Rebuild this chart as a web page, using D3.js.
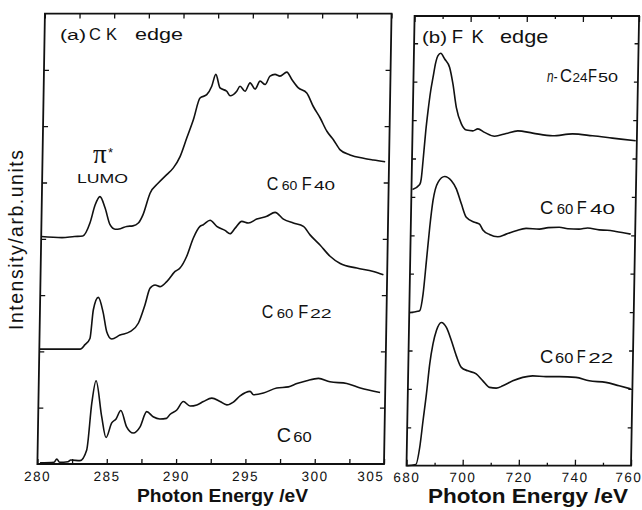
<!DOCTYPE html>
<html>
<head>
<meta charset="utf-8">
<script src="https://cdn.jsdelivr.net/npm/d3@7"></script>
<style>
  body { margin: 0; background: #fff; }
  svg { display: block; font-family: "Liberation Sans", Arial, sans-serif; }
  .frame { fill: none; stroke: #111; stroke-width: 1.8; }
  .spec { fill: none; stroke: #111; stroke-width: 1.6; stroke-linejoin: round; }
  .tick line { stroke: #111; stroke-width: 1.3; }
  .tick text { font-size: 13.5px; letter-spacing: 1.5px; fill: #111; }
</style>
</head>
<body>
<script>
// C K edge spectra, [photon energy eV, intensity arb.units]
var ckC60F40 = [[280,4.04],[281.5,4.02],[282.4,4.04],[283.0,4.05],[283.5,4.28],[283.85,4.60],[284.19,4.75],
  [284.57,4.55],[284.95,4.25],[285.32,4.17],[285.7,4.18],[286.15,4.22],[286.6,4.23],[286.99,4.28],[287.32,4.43],
  [287.8,4.81],[288.38,4.99],[288.98,5.14],[289.45,5.26],[289.92,5.46],[290.38,5.79],[290.84,6.12],[291.29,6.50],
  [291.77,6.56],[292.12,6.71],[292.4,6.92],[292.72,6.68],[293.21,6.62],[293.46,6.54],[293.93,6.62],[294.16,6.71],
  [294.53,6.62],[294.88,6.77],[295.25,6.66],[295.6,6.80],[295.97,6.74],[296.31,6.89],[296.67,6.92],[297.03,6.89],
  [297.52,6.96],[297.89,6.83],[298.37,6.68],[298.98,6.59],[299.47,6.35],[299.97,6.15],[300.48,5.91],[300.96,5.76],
  [301.46,5.58],[302.18,5.49],[303.15,5.43],[303.87,5.40],[304.72,5.37]];
var ckC60F22 = [[280,2.04],[282.94,2.04],[283.29,2.12],[283.64,2.23],[283.85,2.74],[284.19,2.96],[284.57,2.68],
  [284.84,2.35],[285.21,2.22],[285.8,2.29],[286.52,2.35],[287.11,2.50],[287.57,2.83],[287.91,3.12],[288.27,3.18],
  [288.63,3.15],[289.11,3.24],[289.7,3.42],[290.05,3.48],[290.52,3.69],[290.97,4.01],[291.44,4.22],[291.68,4.25],
  [292.16,4.33],[292.65,4.22],[293.25,4.15],[293.62,4.09],[293.98,4.19],[294.45,4.31],[294.93,4.28],[295.53,4.35],
  [296.25,4.40],[296.84,4.47],[297.45,4.35],[298.17,4.28],[298.9,4.22],[299.39,4.07],[300.12,3.89],[300.86,3.69],
  [301.6,3.56],[302.8,3.48],[304.0,3.42],[304.73,3.36]];
var ckC60 = [[280.19,0.02],[281.2,0.03],[281.39,0.09],[281.6,0.03],[282.2,0.04],[282.4,0.07],[283.07,0.06],
  [283.54,0.25],[283.85,1.08],[284.13,1.48],[284.58,0.84],[284.92,0.47],[285.31,0.73],[285.62,0.80],[285.95,0.95],
  [286.39,0.66],[286.88,0.55],[287.36,0.66],[287.82,0.93],[288.29,0.84],[288.78,0.80],[289.26,0.81],[289.5,0.88],
  [289.99,0.96],[290.45,1.11],[290.94,1.03],[291.43,1.05],[291.9,1.11],[292.5,1.17],[293.1,1.11],[293.59,1.05],
  [294.06,1.10],[294.54,1.21],[295.25,1.29],[295.5,1.23],[296.22,1.26],[297.17,1.35],[298.01,1.37],[298.62,1.43],
  [299.33,1.48],[300.17,1.52],[301.0,1.46],[302.22,1.43],[303.2,1.35],[304.63,1.27]];

// F K edge spectra
var fkC24F50 = [[680.36,7.19],[682.9,7.32],[683.41,7.47],[683.94,7.94],[684.72,8.72],[685.4,9.24],[686.23,9.77],
  [686.96,10.11],[687.81,10.49],[688.6,10.68],[689.55,10.74],[691.0,10.59],[692.82,10.37],[694.1,9.94],
  [695.45,9.33],[697.35,8.90],[699.18,8.74],[701.5,8.72],[703.26,8.77],[705.67,8.68],[709.26,8.58],[713.38,8.65],
  [717.5,8.72],[722.83,8.66],[729.96,8.59],[737.03,8.64],[744.17,8.59],[751.27,8.53],[759.6,8.46]];
var fkC60F40 = [[680.18,3.99],[683.0,4.02],[683.73,4.04],[684.8,4.47],[685.79,5.34],[686.75,6.21],[687.74,6.90],
  [689.41,7.38],[691.75,7.53],[694.17,7.42],[695.98,7.21],[697.86,6.82],[699.71,6.47],[702.69,6.34],[704.47,6.29],
  [705.71,6.14],[708.09,6.02],[711.07,5.96],[714.02,6.03],[717.57,6.12],[721.09,6.18],[725.81,6.16],[729,6.20],
  [732.91,6.21],[736,6.17],[740.01,6.16],[743,6.19],[747.15,6.14],[750,6.13],[753.08,6.10],[758.41,6.03]];
var fkC60F22 = [[680,0.0],[683.3,0.03],[684.6,0.48],[685.6,1.17],[686.64,1.87],[687.63,2.65],[688.66,3.17],
  [689.8,3.52],[691.5,3.73],[693.32,3.60],[695.18,3.26],[697.05,2.86],[698.9,2.56],[701.27,2.47],[704.25,2.39],
  [706.67,2.21],[709.08,2.04],[711.47,2.02],[713.81,2.08],[717.33,2.21],[720.84,2.30],[724.39,2.34],
  [729.15,2.32],[733.87,2.32],[739.8,2.30],[744.56,2.21],[750.49,2.17],[755.25,2.08],[759.4,2.0]];

var ckTicks = d3.range(280, 305.01, 2.5);
var ckLabels = [280, 285, 290, 295, 300, 305];
var fkTicks = d3.range(680, 760.01, 10);
var fkLabels = [680, 700, 720, 740, 760];

var svg = d3.select('body').append('svg')
    .attr('width', 642)
    .attr('height', 510);

// the scanned figure leans slightly, so each panel is sheared about its bottom edge
function panel(opts) {
  var x = d3.scaleLinear().domain(opts.xDomain).range(opts.xRange);
  var y = d3.scaleLinear().domain(opts.yDomain).range(opts.yRange);
  var yb = opts.yRange[0], k = opts.skew;

  var g = svg.append('g')
      .attr('transform', 'matrix(1,0,' + (-k) + ',1,' + (k * yb) + ',0)');

  var line = d3.line()
      .curve(d3.curveMonotoneX)
      .x(function(d) { return x(d[0]); })
      .y(function(d) { return y(d[1]); });

  opts.series.forEach(function(s) {
    g.append('path').attr('class', 'spec').attr('d', line(s));
  });

  function fmt(d) {
    return opts.labels.indexOf(Math.round(d * 10) / 10) >= 0 ? String(d) : '';
  }
  function tickLen(d) {
    return opts.minor && opts.labels.indexOf(d) < 0 ? 3 : opts.xTickLen;
  }

  var bottom = g.append('g')
      .attr('transform', 'translate(0,' + yb + ')')
      .call(d3.axisBottom(x).tickValues(opts.xTicks).tickSize(0).tickPadding(7).tickFormat(fmt));
  bottom.selectAll('.tick line').attr('y2', function(d) { return -tickLen(d); });
  bottom.select('.domain').remove();
  // last label sits against the neighbour panel / page edge
  bottom.selectAll('.tick text').filter(function(d) { return d === opts.xDomain[1]; })
      .attr('text-anchor', 'end').attr('x', opts.lastShift);

  var top = g.append('g')
      .attr('transform', 'translate(0,' + opts.yRange[1] + ')')
      .call(d3.axisTop(x).tickValues(opts.xTicks).tickSize(0).tickFormat(''));
  top.selectAll('.tick line').attr('y2', function(d) { return tickLen(d); });
  top.select('.domain').remove();

  var left = g.append('g')
      .attr('transform', 'translate(' + opts.xRange[0] + ',0)')
      .call(d3.axisLeft(y).tickValues(opts.yTicks).tickSize(-opts.yTickLen).tickFormat(''));
  left.select('.domain').remove();

  var right = g.append('g')
      .attr('transform', 'translate(' + opts.xRange[1] + ',0)')
      .call(d3.axisRight(y).tickValues(opts.yTicks).tickSize(-opts.yTickLen).tickFormat(''));
  right.select('.domain').remove();

  g.append('rect').attr('class', 'frame')
      .attr('x', opts.xRange[0]).attr('y', opts.yRange[1])
      .attr('width', opts.xRange[1] - opts.xRange[0])
      .attr('height', yb - opts.yRange[1]);
}

panel({
  xDomain: [280, 305], xRange: [37.4, 384],
  yDomain: [0, 8], yRange: [464, 13.6],
  skew: 0.0167,
  series: [ckC60F40, ckC60F22, ckC60],
  xTicks: ckTicks, labels: ckLabels, xTickLen: 5, minor: false, lastShift: 0,
  yTicks: d3.range(1, 8), yTickLen: 5
});

panel({
  xDomain: [680, 760], xRange: [406.5, 631],
  yDomain: [0, 11.71], yRange: [465.7, 16],
  skew: 0.018,
  series: [fkC24F50, fkC60F40, fkC60F22],
  xTicks: fkTicks, labels: fkLabels, xTickLen: 6, minor: true, lastShift: 11,
  yTicks: d3.range(1, 12), yTickLen: 4
});

// text
function txt(x, y, s, size, width, extra) {
  var t = svg.append('text')
      .attr('x', x).attr('y', y)
      .style('font-size', size + 'px')
      .attr('fill', '#111')
      .text(s);
  if (width) t.attr('textLength', width).attr('lengthAdjust', 'spacingAndGlyphs');
  if (extra) extra(t);
  return t;
}

txt(60, 40, '(a)', 15.5, 26);
txt(89, 40, 'C', 16.5);
txt(106, 40, 'K', 16.5);
txt(135, 40, 'edge', 17, 48);

txt(422, 43.3, '(b)', 17, 25);
txt(451.7, 43.3, 'F', 18.5);
txt(471.5, 43.3, 'K', 18.5);
txt(500, 43.3, 'edge', 18.5, 48.3);

txt(93, 163, 'π', 27, null, function(t) { t.style('font-family', '"Liberation Serif", "Times New Roman", serif'); });
txt(108, 157, '*', 13);
txt(77, 183, 'LUMO', 13.5, 51);

// sample labels
txt(266.7, 190, 'C', 18.5, 11.6); txt(281.7, 190, '60', 13.5, 15.6);
txt(301.7, 190, 'F', 18.5, 10); txt(314, 190, '40', 13.5, 21);

txt(261.7, 318.3, 'C', 18.5, 11.6); txt(276.7, 318.3, '60', 13.5, 16.6);
txt(298.3, 318.3, 'F', 18.5, 10); txt(310, 318.3, '22', 13.5, 21.7);

txt(276.7, 441.7, 'C', 20, 14.3); txt(293.3, 441.7, '60', 14, 18.4);

txt(547, 81.7, 'n-', 16, 10.5, function(t) { t.style('font-style', 'italic'); });
txt(560, 81.7, 'C', 18, 12); txt(572.5, 81.7, '24', 12.5, 15);
txt(588, 81.7, 'F', 18, 9); txt(598, 81.7, '50', 12.5, 20);

txt(540, 214, 'C', 19, 13.3); txt(556.7, 214, '60', 14, 16.6);
txt(576.7, 214, 'F', 19, 10); txt(590, 214, '40', 14, 25);

txt(540, 362.7, 'C', 19, 13.3); txt(555, 362.7, '60', 14, 18.3);
txt(576.7, 362.7, 'F', 19, 9); txt(588.3, 362.7, '22', 14, 25);

// axis titles
svg.append('text')
    .attr('transform', 'translate(23,240) rotate(-90)')
    .attr('text-anchor', 'middle')
    .attr('textLength', 180).attr('lengthAdjust', 'spacing')
    .style('font-size', '19.5px').attr('fill', '#111')
    .text('Intensity/arb.units');

svg.append('text')
    .attr('x', 137).attr('y', 502)
    .attr('textLength', 171).attr('lengthAdjust', 'spacingAndGlyphs')
    .style('font-size', '18.5px').style('font-weight', 'bold').attr('fill', '#111')
    .text('Photon Energy /eV');

svg.append('text')
    .attr('x', 428).attr('y', 503)
    .attr('textLength', 200).attr('lengthAdjust', 'spacingAndGlyphs')
    .style('font-size', '20px').style('font-weight', 'bold').attr('fill', '#111')
    .text('Photon Energy /eV');
</script>
</body>
</html>
